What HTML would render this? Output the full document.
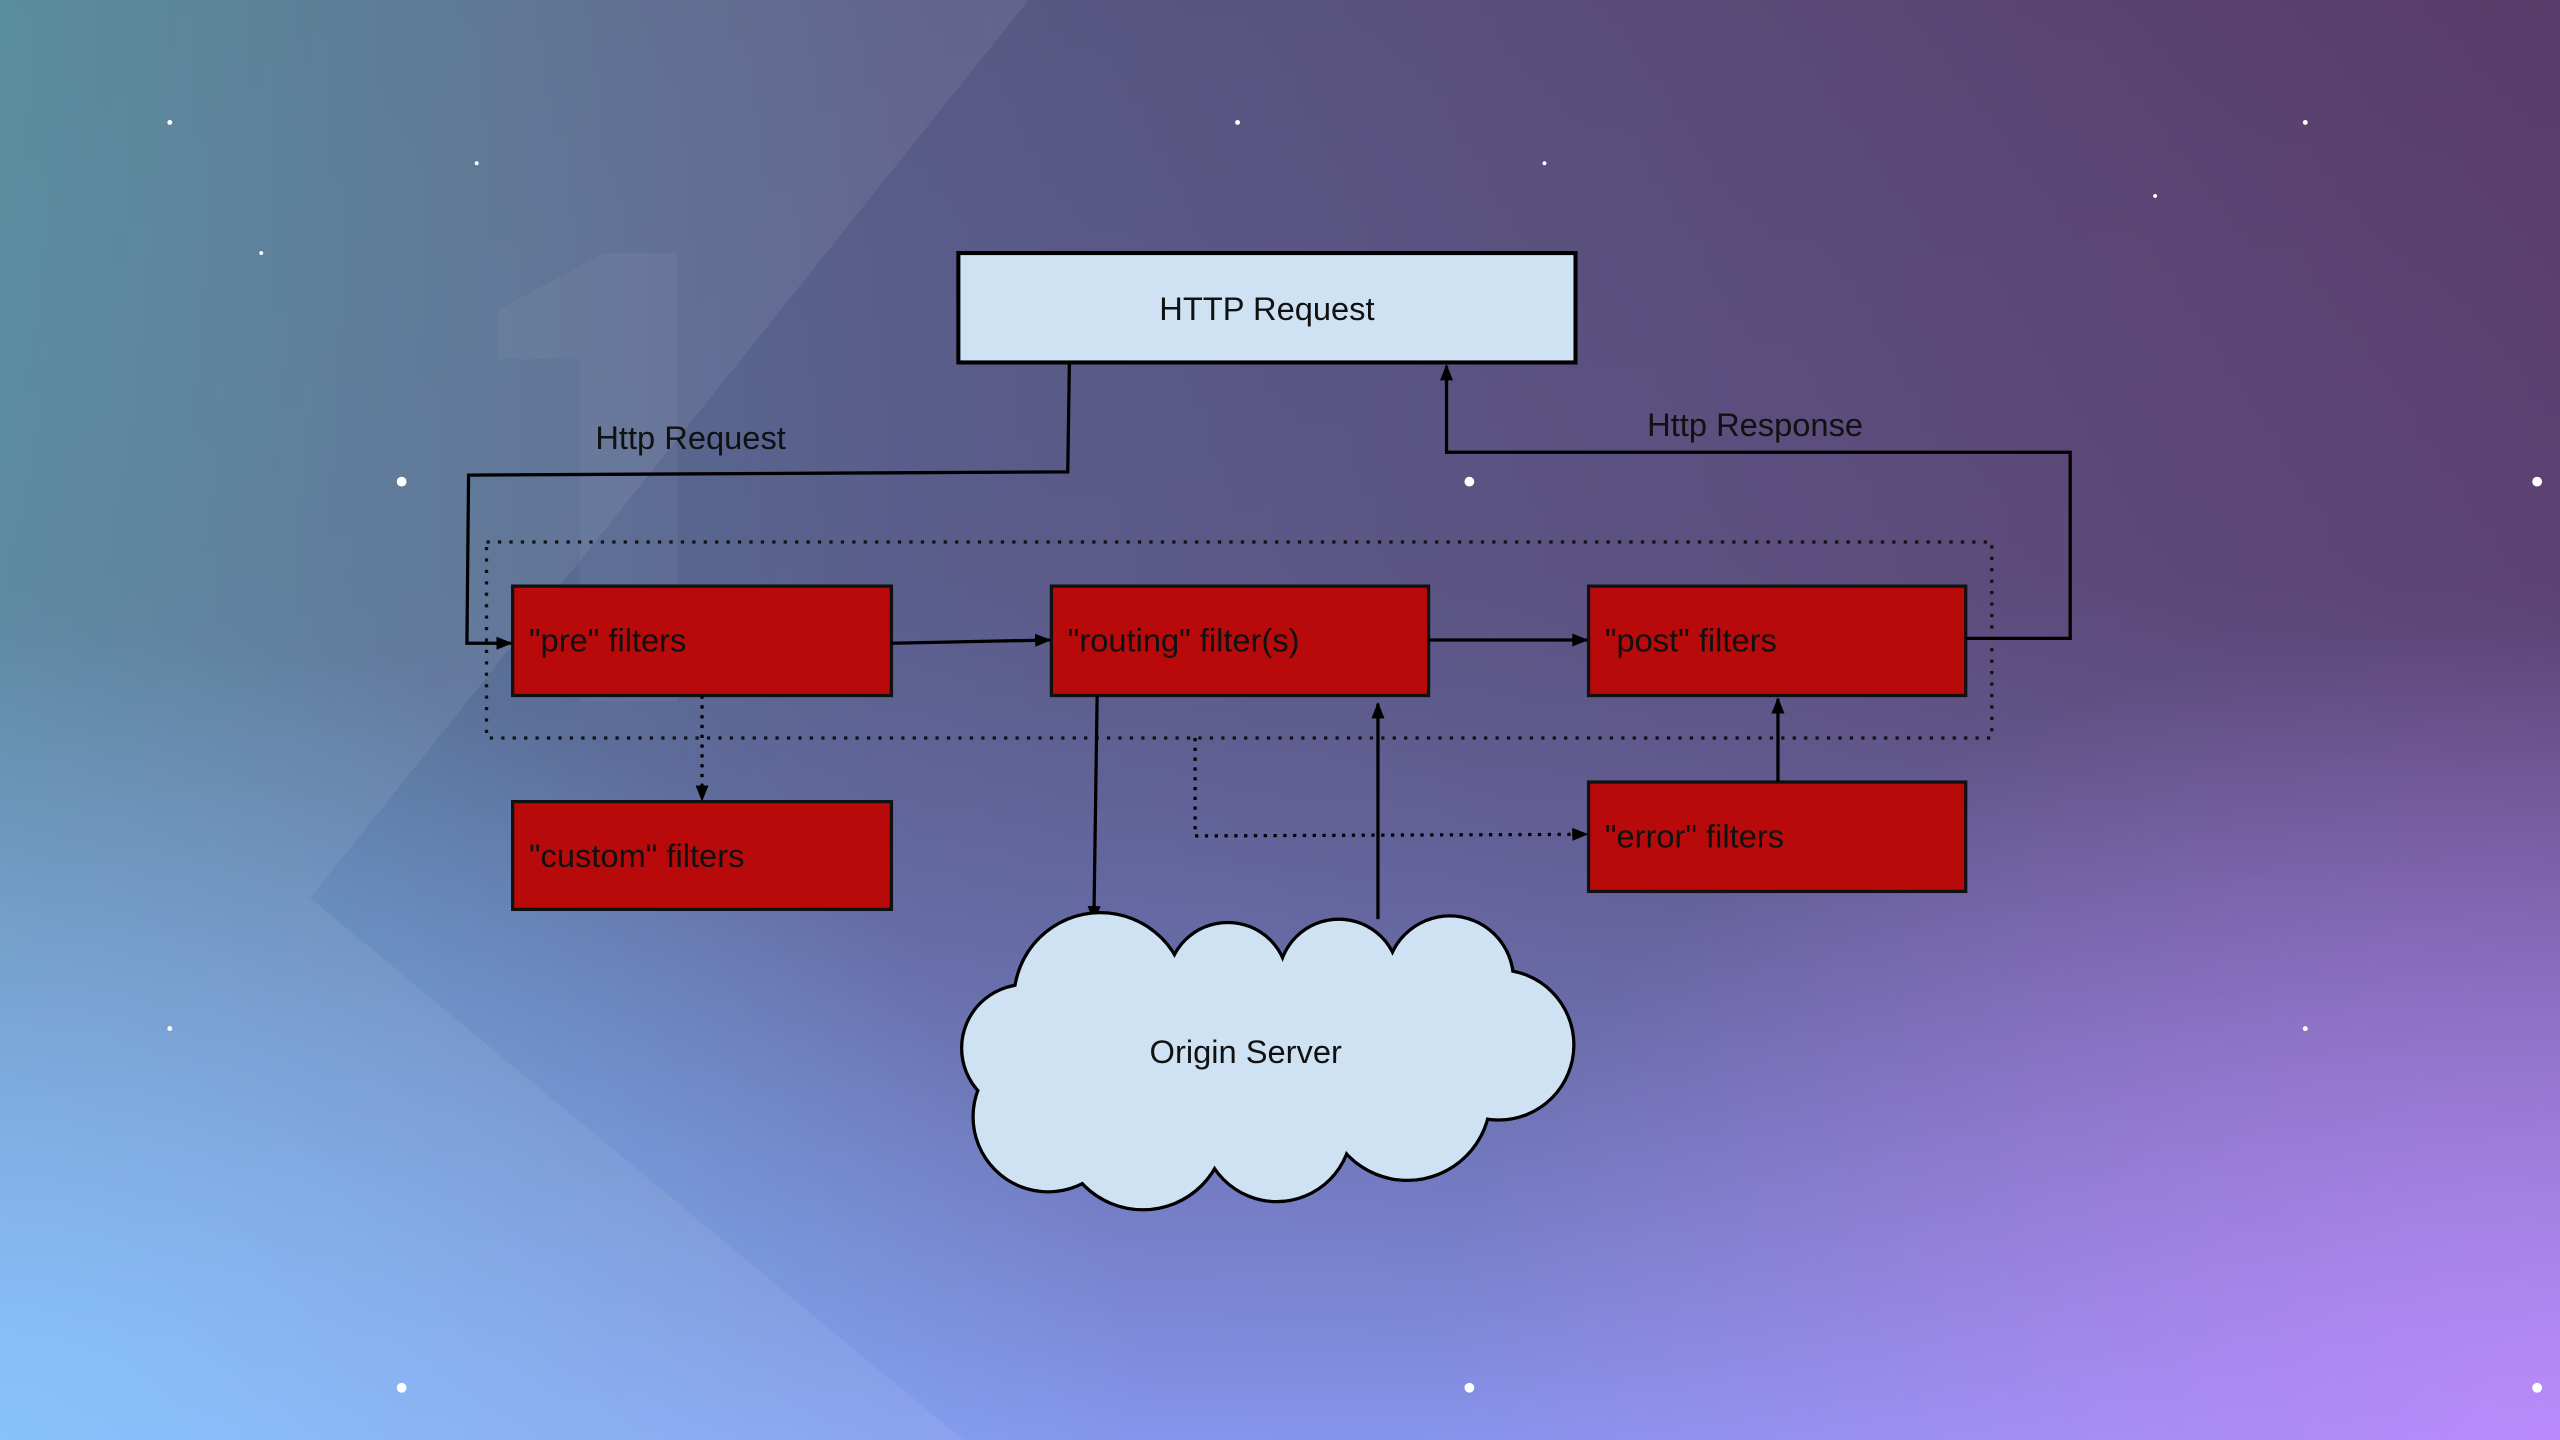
<!DOCTYPE html>
<html><head><meta charset="utf-8"><style>
html,body{margin:0;padding:0;width:2560px;height:1440px;overflow:hidden}
svg{display:block}
text{font-family:"Liberation Sans",sans-serif}
</style></head><body>
<svg width="2560" height="1440" viewBox="0 0 1568 882" xmlns="http://www.w3.org/2000/svg">
<defs>
<linearGradient id="g1" x1="0" y1="0" x2="1" y2="0">
<stop offset="0" stop-color="#4d8696"/><stop offset="0.35" stop-color="#585a85"/><stop offset="1" stop-color="#5a3a68"/>
</linearGradient>
<linearGradient id="g2" x1="0" y1="0" x2="0" y2="1">
<stop offset="0" stop-color="#7080d0" stop-opacity="0"/><stop offset="0.4" stop-color="#6a70b0" stop-opacity="0.15"/><stop offset="1" stop-color="#8a9cf8" stop-opacity="0.9"/>
</linearGradient>
<radialGradient id="rb" cx="0" cy="1" r="1">
<stop offset="0" stop-color="#80c8ff" stop-opacity="0.8"/><stop offset="1" stop-color="#80c8ff" stop-opacity="0"/>
</radialGradient>
<radialGradient id="rv" cx="1" cy="1" r="1">
<stop offset="0" stop-color="#c888ff" stop-opacity="0.8"/><stop offset="1" stop-color="#c888ff" stop-opacity="0"/>
</radialGradient>
<marker id="ar" markerWidth="10" markerHeight="10" refX="9" refY="5" orient="auto" markerUnits="userSpaceOnUse"><path d="M0,1 L10,5 L0,9 z" fill="#000"/></marker>
</defs>
<rect width="1568" height="882" fill="url(#g1)"/>
<rect width="1568" height="882" fill="url(#g2)"/>
<rect x="0" y="382" width="700" height="500" fill="url(#rb)"/>
<rect x="868" y="382" width="700" height="500" fill="url(#rv)"/>
<polygon points="0,0 630,0 190,550 590,882 0,882" fill="#fff" opacity="0.07"/>
<path d="M305,220 L305,190 L370,155 L415,155 L415,430 L355,430 L355,220 Z" fill="#fff" opacity="0.04"/>
<g fill="#fff">
<circle cx="246" cy="295" r="3"/><circle cx="900" cy="295" r="3"/><circle cx="1554" cy="295" r="3"/>
<circle cx="246" cy="850" r="3"/><circle cx="900" cy="850" r="3"/><circle cx="1554" cy="850" r="3"/>
<circle cx="104" cy="75" r="1.5"/><circle cx="758" cy="75" r="1.5"/><circle cx="1412" cy="75" r="1.5"/>
<circle cx="104" cy="630" r="1.5"/><circle cx="1412" cy="630" r="1.5"/><circle cx="292" cy="100" r="1.2"/>
<circle cx="946" cy="100" r="1.2"/><circle cx="160" cy="155" r="1.2"/><circle cx="1320" cy="120" r="1.2"/>
</g>
<rect x="298" y="332" width="922" height="120" fill="none" stroke="#111" stroke-width="2" stroke-dasharray="2,5"/>
<rect x="587" y="155" width="378" height="67" fill="#cfe2f3" stroke="#000" stroke-width="2.5"/>
<text x="776" y="196" font-size="20" text-anchor="middle" fill="#111">HTTP Request</text>
<g fill="#b80a0a" stroke="#111" stroke-width="2">
<rect x="314" y="359" width="232" height="67"/><rect x="644" y="359" width="231" height="67"/>
<rect x="973" y="359" width="231" height="67"/><rect x="314" y="491" width="232" height="66"/>
<rect x="973" y="479" width="231" height="67"/>
</g>
<g font-size="20" fill="#111">
<text x="324" y="399">"pre" filters</text><text x="654" y="399">"routing" filter(s)</text>
<text x="983" y="399">"post" filters</text><text x="324" y="531">"custom" filters</text>
<text x="983" y="519">"error" filters</text>
<text x="423" y="275" text-anchor="middle">Http Request</text>
<text x="1075" y="267" text-anchor="middle">Http Response</text>
</g>
<g fill="none" stroke="#000" stroke-width="2">
<path d="M655,222 L654,289 L287,291 L286,394 L313,394" marker-end="url(#ar)"/>
<path d="M546,394 L643,392" marker-end="url(#ar)"/>
<path d="M875,392 L972,392" marker-end="url(#ar)"/>
<path d="M1204,391 L1268,391 L1268,277 L886,277 L886,224" marker-end="url(#ar)"/>
<path d="M430,426 L430,490" stroke-dasharray="2,4" marker-end="url(#ar)"/>
<path d="M672,426 L670,564" marker-end="url(#ar)"/>
<path d="M844,563 L844,431" marker-end="url(#ar)"/>
<path d="M732,452 L732,512 L972,511" stroke-dasharray="2,4" marker-end="url(#ar)"/>
<path d="M1089,479 L1089,428" marker-end="url(#ar)"/>
</g>
<g>
<g fill="#000" stroke="#000" stroke-width="4">
<circle cx="628" cy="642" r="38"/><circle cx="642" cy="684" r="45"/><circle cx="700" cy="690" r="50"/>
<circle cx="782" cy="690" r="45"/><circle cx="862" cy="672" r="50"/><circle cx="918" cy="640" r="45"/>
<circle cx="888" cy="600" r="38"/><circle cx="820" cy="600" r="36"/><circle cx="752" cy="602" r="36"/><circle cx="674" cy="612" r="52"/>
</g>
<g fill="#cfe2f3">
<circle cx="628" cy="642" r="38"/><circle cx="642" cy="684" r="45"/><circle cx="700" cy="690" r="50"/>
<circle cx="782" cy="690" r="45"/><circle cx="862" cy="672" r="50"/><circle cx="918" cy="640" r="45"/>
<circle cx="888" cy="600" r="38"/><circle cx="820" cy="600" r="36"/><circle cx="752" cy="602" r="36"/><circle cx="674" cy="612" r="52"/>
<ellipse cx="775" cy="648" rx="140" ry="50"/>
</g>
<text x="763" y="651" font-size="20" text-anchor="middle" fill="#111">Origin Server</text>
</g>
</svg>
</body></html>
